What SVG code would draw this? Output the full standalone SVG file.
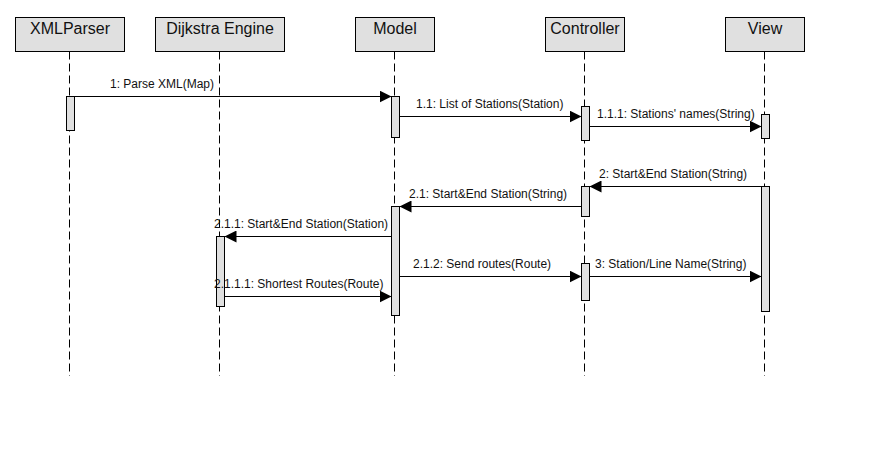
<svg xmlns="http://www.w3.org/2000/svg" width="874" height="462" viewBox="0 0 874 462">
<style>
.box{fill:#e0e0e0;stroke:#000;stroke-width:1}
.bar{fill:#e0e0e0;stroke:#000;stroke-width:1}
.life{stroke:#000;stroke-width:1;stroke-dasharray:8,4;fill:none}
.hd{font-family:"Liberation Sans",Arial,sans-serif;font-size:16px;fill:#111;text-anchor:middle}
.msg{stroke:#000;stroke-width:1;fill:none;marker-end:url(#ah)}
.lb{font-family:"Liberation Sans",Arial,sans-serif;font-size:12px;fill:#111}
</style>
<defs>
<marker id="ah" markerUnits="userSpaceOnUse" markerWidth="13" markerHeight="12" refX="12" refY="6" orient="auto">
<path d="M0,0 L12,6 L0,12 z" fill="#000"/>
</marker>
</defs>
<rect x="0" y="0" width="874" height="462" fill="#fff"/>
<g id="xmlparser">
<rect class="box" x="15.5" y="17.5" width="109" height="34"/>
<text class="hd" x="70" y="34">XMLParser</text>
<line class="life" x1="69.5" y1="51.5" x2="69.5" y2="376"/>
<rect class="bar" x="66.5" y="96.5" width="8" height="34"/>
</g>
<g id="dijkstra">
<rect class="box" x="155.5" y="17.5" width="129" height="34"/>
<text class="hd" x="220" y="34">Dijkstra Engine</text>
<line class="life" x1="219.5" y1="51.5" x2="219.5" y2="376"/>
<rect class="bar" x="216.5" y="236.5" width="8" height="70"/>
</g>
<g id="model">
<rect class="box" x="355.5" y="17.5" width="79" height="34"/>
<text class="hd" x="395" y="34">Model</text>
<line class="life" x1="394.5" y1="51.5" x2="394.5" y2="376"/>
<rect class="bar" x="391.5" y="96.5" width="8" height="41"/>
<rect class="bar" x="391.5" y="206.5" width="8" height="109"/>
</g>
<g id="controller">
<rect class="box" x="545.5" y="17.5" width="79" height="34"/>
<text class="hd" x="585" y="34">Controller</text>
<line class="life" x1="584.5" y1="51.5" x2="584.5" y2="376"/>
<rect class="bar" x="581.5" y="106.5" width="8" height="34"/>
<rect class="bar" x="581.5" y="186.5" width="8" height="30"/>
<rect class="bar" x="581.5" y="263.5" width="8" height="37"/>
</g>
<g id="view">
<rect class="box" x="725.5" y="17.5" width="79" height="34"/>
<text class="hd" x="765" y="34">View</text>
<line class="life" x1="764.5" y1="51.5" x2="764.5" y2="376"/>
<rect class="bar" x="761.5" y="114.5" width="8" height="24"/>
<rect class="bar" x="761.5" y="186.5" width="8" height="125"/>
</g>
<g id="connectors">
<line class="msg" x1="74.5" y1="96.5" x2="391.5" y2="96.5"/>
<text class="lb" x="110" y="88">1: Parse XML(Map)</text>
<line class="msg" x1="399.5" y1="116.5" x2="581.5" y2="116.5"/>
<text class="lb" x="416" y="107.5">1.1: List of Stations(Station)</text>
<line class="msg" x1="589.5" y1="126.5" x2="761.5" y2="126.5"/>
<text class="lb" x="597" y="118">1.1.1: Stations' names(String)</text>
<line class="msg" x1="761.5" y1="186.5" x2="589.5" y2="186.5"/>
<text class="lb" x="599" y="178">2: Start&amp;End Station(String)</text>
<line class="msg" x1="581.5" y1="206.5" x2="399.5" y2="206.5"/>
<text class="lb" x="409" y="198">2.1: Start&amp;End Station(String)</text>
<line class="msg" x1="391.5" y1="236.5" x2="224.5" y2="236.5"/>
<text class="lb" x="214" y="228">2.1.1: Start&amp;End Station(Station)</text>
<line class="msg" x1="399.5" y1="276.5" x2="581.5" y2="276.5"/>
<text class="lb" x="413" y="268">2.1.2: Send routes(Route)</text>
<line class="msg" x1="224.5" y1="296.5" x2="391.5" y2="296.5"/>
<text class="lb" x="214" y="288">2.1.1.1: Shortest Routes(Route)</text>
<line class="msg" x1="589.5" y1="276.5" x2="761.5" y2="276.5"/>
<text class="lb" x="595" y="268">3: Station/Line Name(String)</text>
</g>
</svg>
